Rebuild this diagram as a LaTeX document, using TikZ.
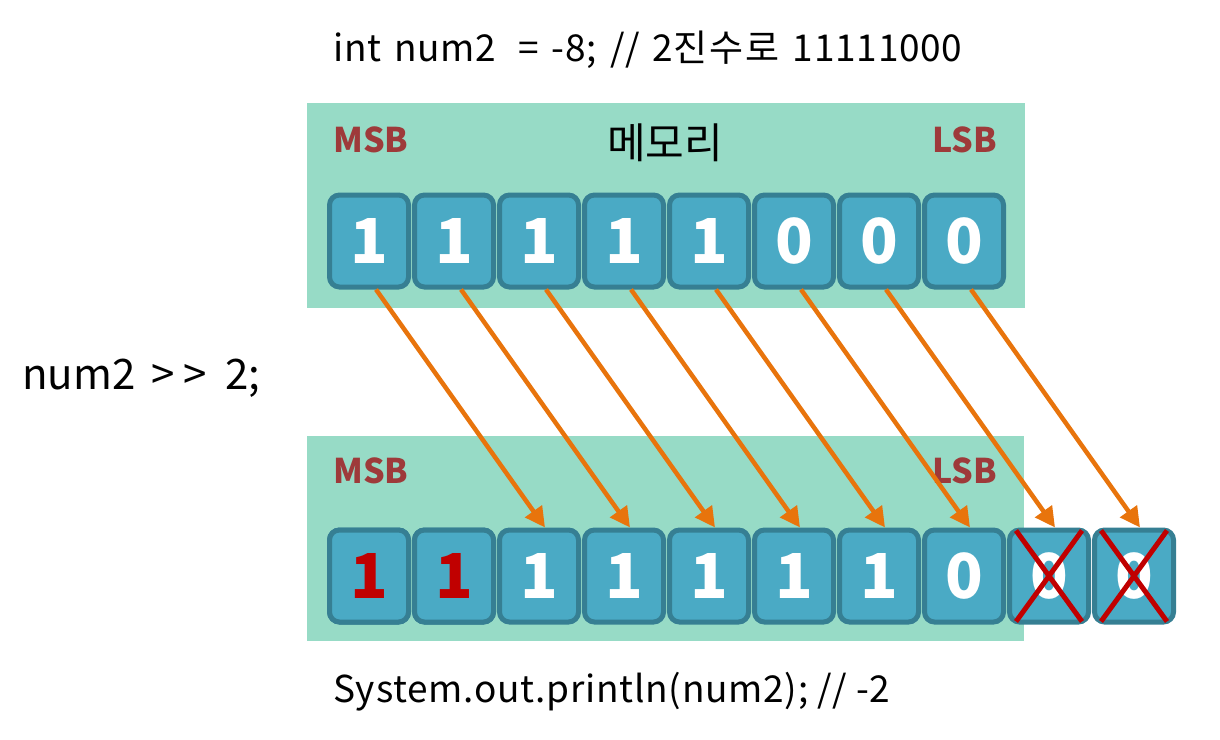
\documentclass[tikz,border=0pt]{standalone}
\usepackage{fontspec}
\setmainfont{Noto Sans CJK KR}
\usepackage{xcolor}
\usepackage{tikz}
\usetikzlibrary{arrows.meta,positioning,calc}
\definecolor{memgreen}{RGB}{151,219,198}
\definecolor{cellblue}{RGB}{74,170,197}
\definecolor{celledge}{RGB}{54,127,147}
\definecolor{shiftorange}{RGB}{232,116,12}
\definecolor{tagred}{RGB}{158,58,58}
\definecolor{lostred}{RGB}{192,0,0}

\begin{document}
\begin{tikzpicture}[
			x=1pt, y=-1pt,
			mem/.style={fill=memgreen, draw=none},
			bitcell/.style={draw=celledge, fill=cellblue, line width=5pt, rounded corners=10pt, minimum width=79pt, minimum height=92pt, text=white, font=\fontsize{62}{62}\selectfont\bfseries},
			tag/.style={text=tagred, font=\fontsize{34}{34}\selectfont\bfseries, inner sep=0pt},
			plain/.style={font=\fontsize{37}{37}\selectfont\addfontfeature{LetterSpace=2}, inner sep=0pt},
			shiftarrow/.style={draw=shiftorange, line width=4.5pt, -{Triangle[length=20pt,width=20pt]}},
			xmark/.style={draw=lostred, line width=5pt}
			]
			\useasboundingbox (0,0) rectangle (1220,739);
			
			% memory areas
			\fill[mem] (307,103) rectangle (1025,308);
			\fill[mem] (307,436) rectangle (1024,641);
			
			\node[plain, anchor=west] (decl) at (333,50) {\spaceskip=13pt int num2\kern22pt= -8; // 2{\addfontfeature{LetterSpace=6}진수로} 11111000};
			\node[plain, font=\fontsize{42}{42}\selectfont] (memlabel) at (665,143) {메모리};
			\node[tag, anchor=west] (msbtop) at (333,140) {MSB};
			\node[tag, anchor=east] (lsbtop) at (997,140) {LSB};
			\node[tag, anchor=west] (msbbot) at (333,471) {MSB};
			\node[tag, anchor=east] (lsbbot) at (997,471) {LSB};
			\node[plain, font=\fontsize{42}{42}\selectfont, anchor=west] (op) at (22,378) {num2 \,>\kern8pt> \ 2;};
			\node[plain, anchor=west] (print) at (333,692) {System.out.println(num2); // -2};
			
			% bits before shift
			\foreach \b [count=\i] in {1,1,1,1,1,0,0,0}
				\node[bitcell] (t\i) at ({369+85*(\i-1)},241) {\b};
			
			% bits after shift
			\foreach \b [count=\i] in {1,1,1,1,1,1,1,0,0,0}
				\node[bitcell] (b\i) at ({369+85*(\i-1)},576) {\b};
			\node[bitcell, text=lostred] at (b1) {1};
			\node[bitcell, text=lostred] at (b2) {1};
			
			\foreach \i [evaluate=\i as \j using int(\i+2)] in {1,...,8}
				\draw[shiftarrow] ([xshift=7pt]t\i.south) -- ([xshift=6pt]b\j.north);
			
			\foreach \i in {9,10} {
				\draw[xmark] ([shift={(9,3)}]b\i.north west) -- ([shift={(-9,-3)}]b\i.south east);
				\draw[xmark] ([shift={(-9,3)}]b\i.north east) -- ([shift={(9,-3)}]b\i.south west);
			}
		\end{tikzpicture}
\end{document}
